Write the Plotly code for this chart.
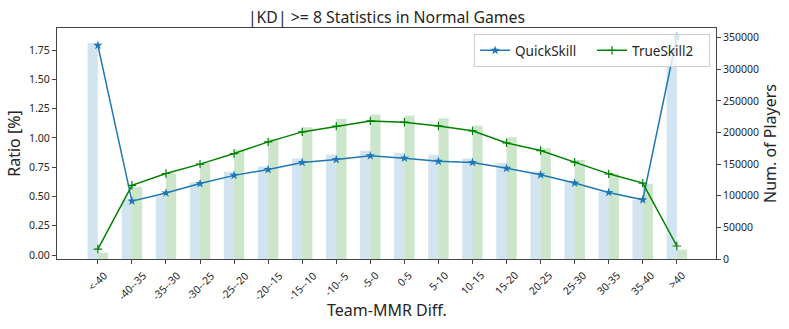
import plotly.graph_objects as go

# categories of team-MMR difference
categories = ['<-40', '-40--35', '-35--30', '-30--25', '-25--20', '-20--15', '-15--10', '-10--5', '-5-0',
              '0-5', '5-10', '10-15', '15-20', '20-25', '25-30', '30-35', '35-40', '>40']

# ratio [%] of |KD| >= 8 (left axis)
quick_ratio = [1.79, 0.46, 0.53, 0.61, 0.68, 0.73, 0.79, 0.815, 0.847, 0.827, 0.80, 0.79, 0.74, 0.685, 0.614, 0.534, 0.471, 1.861]
true_ratio = [0.051, 0.595, 0.696, 0.776, 0.866, 0.966, 1.051, 1.10, 1.145, 1.134, 1.102, 1.06, 0.957, 0.892, 0.793, 0.693, 0.614, 0.077]

# number of players (right axis)
quick_players = [341600, 93700, 99500, 121600, 137900, 146300, 158900, 165200, 171000, 167900,
                 164700, 158900, 152100, 138400, 122600, 106800, 93200, 347900]
true_players = [9950, 114200, 135200, 152100, 173100, 190000, 208500, 221600, 228400, 226800,
                222700, 211000, 192700, 175300, 156400, 135800, 118900, 14700]

xs = list(range(len(categories)))
FONT = 'Noto Sans'
TXT = '#262626'
BLUE = '#1f77b4'
GREEN = '#008000'

fig = go.Figure()

# bars on the base axis (drawn on the right), lines on the overlaying axis so they stay on top
fig.add_trace(go.Bar(x=xs, y=quick_players, width=0.3, offset=-0.3, marker_color='rgba(31,119,180,0.2)',
                     marker_line_width=0, showlegend=False, yaxis='y'))
fig.add_trace(go.Bar(x=xs, y=true_players, width=0.3, offset=0, marker_color='rgba(0,128,0,0.2)',
                     marker_line_width=0, showlegend=False, yaxis='y'))
fig.add_trace(go.Scatter(x=xs, y=quick_ratio, mode='lines+markers', name='QuickSkill', yaxis='y2',
                         line=dict(color=BLUE, width=1.5), marker=dict(symbol='star', size=7, color=BLUE)))
fig.add_trace(go.Scatter(x=xs, y=true_ratio, mode='lines+markers', name='TrueSkill2', yaxis='y2',
                         line=dict(color=GREEN, width=1.5),
                         marker=dict(symbol='cross-thin', size=6, line=dict(color=GREEN, width=1.2))))

for i, c in enumerate(categories):
    fig.add_annotation(x=i, xref='x', y=0, yref='paper', yshift=-7, text=c, textangle=-45,
                       xanchor='center', yanchor='top', showarrow=False, font=dict(size=10.5, color=TXT))

fig.add_annotation(x=0.5, xref='paper', y=0, yref='paper', yshift=-51, text='Team-MMR Diff.',
                   showarrow=False, xanchor='center', yanchor='middle', font=dict(size=16, color=TXT))

fig.update_layout(
    width=789, height=329,
    margin=dict(l=57, r=73, t=28, b=70),
    paper_bgcolor='white', plot_bgcolor='white',
    font=dict(family=FONT, color=TXT),
    barmode='overlay',
    title=dict(text='|KD| >= 8 Statistics in Normal Games', x=0.5, xref='paper', y=0.948, yref='container',
               xanchor='center', yanchor='middle', font=dict(size=15.8, color=TXT)),
    xaxis=dict(range=[-1.2, 18.15], tickvals=xs, showticklabels=False, ticks='outside', ticklen=4,
               tickcolor='#444', showline=True, linecolor='#444', mirror=True, showgrid=False, zeroline=False,
               automargin=False),
    yaxis=dict(side='right', range=[0, 365300], tickvals=list(range(0, 350001, 50000)), tickformat='d',
               ticks='outside', ticklen=4, tickcolor='#444', showline=True, linecolor='#444', showgrid=False,
               zeroline=False, automargin=False, tickfont=dict(size=10.5),
               title=dict(text='Num. of Players', font=dict(size=16), standoff=4)),
    yaxis2=dict(overlaying='y', side='left', range=[-0.034, 1.938], tickvals=[0, 0.25, 0.5, 0.75, 1.0, 1.25, 1.5, 1.75],
                tickformat='.2f', ticks='outside', ticklen=4, tickcolor='#444', showline=True, linecolor='#444',
                showgrid=False, zeroline=False, automargin=False, tickfont=dict(size=10.5),
                title=dict(text='Ratio [%]', font=dict(size=16), standoff=4)),
    legend=dict(orientation='h', x=0.991, y=0.974, xanchor='right', yanchor='top', bgcolor='rgba(255,255,255,0.8)',
                bordercolor='#cccccc', borderwidth=1, font=dict(size=13.5, color=TXT),
                entrywidth=72, entrywidthmode='pixels'),
)

# drop the default page margin so the figure sits at the window's corner
fig.write_html('out.html', config={'displayModeBar': False}, post_script="document.body.style.margin='0';")
